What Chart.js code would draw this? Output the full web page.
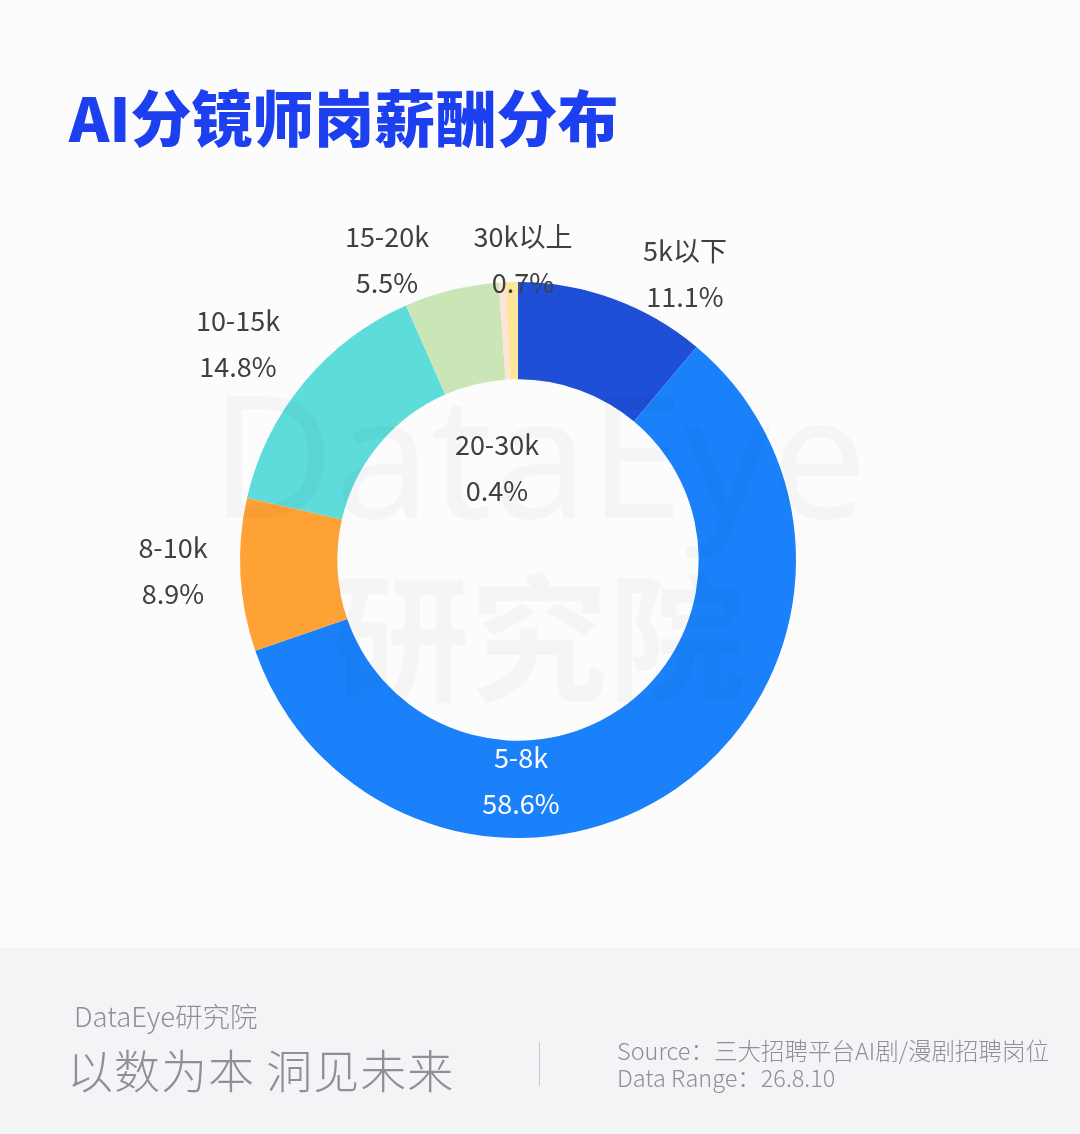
<!DOCTYPE html>
<html>
<head>
<meta charset="utf-8">
<script src="https://cdn.jsdelivr.net/npm/chart.js@4.4.1/dist/chart.umd.min.js"></script>
<style>
  html, body { margin: 0; padding: 0; }
  body { width: 1080px; height: 1134px; background: #fcfcfc; position: relative; overflow: hidden;
         font-family: "Noto Sans CJK SC", "Noto Sans", sans-serif; }
  #title { position: absolute; left: 69px; top: 76px; font-size: 61px; font-weight: 900; color: #1c40f0;
           line-height: 80px; }
  #main { position: absolute; left: 0; top: 0; width: 1080px; height: 948px; }
  #watermark { position: absolute; left: 0; top: 0; width: 1080px; height: 948px; pointer-events: none; }
  #wm1 { position: absolute; left: 210px; top: 352px; font-family: "Noto Sans", sans-serif; font-size: 171px;
         font-weight: 400; color: rgba(0,0,0,0.026); line-height: 200px; }
  #wm2 { position: absolute; left: 332px; top: 540px; font-size: 138px; font-weight: 700;
         color: rgba(0,0,0,0.026); line-height: 180px; }
  #footer { position: absolute; left: 0; top: 948px; width: 1080px; height: 186px; background: #f3f4f6; }
  .ft { position: absolute; color: #8f8f97; white-space: nowrap; }
  #brand { left: 74px; top: 47px; font-size: 27.5px; font-weight: 300; }
  #slogan { left: 67px; top: 87px; font-size: 46px; font-weight: 300; letter-spacing: 1px; }
  #sep { position: absolute; left: 539px; top: 94px; width: 1px; height: 44px; background: #c8c8cc; }
  #src { left: 617px; top: 89px; font-size: 23.5px; font-weight: 300; line-height: 27px; }
</style>
</head>
<body>
<div id="title">AI分镜师岗薪酬分布</div>
<div id="main"><canvas id="chart" width="1080" height="948"></canvas></div>
<div id="watermark"><div id="wm1">DataEye</div><div id="wm2">研究院</div></div>
<div id="footer">
  <div class="ft" id="brand">DataEye研究院</div>
  <div class="ft" id="slogan">以数为本 洞见未来</div>
  <div id="sep"></div>
  <div class="ft" id="src">Source：三大招聘平台AI剧/漫剧招聘岗位<br>Data Range：26.8.10</div>
</div>
<script>
const categories = ["5k以下", "5-8k", "8-10k", "10-15k", "15-20k", "20-30k", "30k以上"];
const shares = [11.1, 58.6, 8.9, 14.8, 5.5, 0.4, 0.7];
const sliceColors = ["#1f4fd6", "#1a81fa", "#ffa236", "#5ddcd9", "#cae6b7", "#fde4d6", "#fde69a"];

// label block centre, offset from the doughnut centre (layout only)
const labelOffsets = [[167, -286], [3, 221], [-345, 11], [-280, -216], [-131, -300], [-21, -92], [5, -300]];
const labelColors = ["#404040", "#ffffff", "#404040", "#404040", "#404040", "#404040", "#404040"];

const sliceLabels = {
  id: "sliceLabels",
  afterDatasetsDraw(chart) {
    const ctx = chart.ctx;
    const arcs = chart.getDatasetMeta(0).data;
    ctx.save();
    ctx.font = '27px "Noto Sans CJK SC", "Noto Sans", sans-serif';
    ctx.textAlign = "center";
    ctx.textBaseline = "middle";
    arcs.forEach((arc, i) => {
      const cx = arc.x + labelOffsets[i][0];
      const cy = arc.y + labelOffsets[i][1];
      ctx.fillStyle = labelColors[i];
      ctx.fillText(categories[i], cx, cy - 23);
      ctx.fillText(shares[i].toFixed(1) + "%", cx, cy + 23);
    });
    ctx.restore();
  },
};

new Chart(document.getElementById("chart"), {
  type: "doughnut",
  data: {
    labels: categories,
    datasets: [{ data: shares, backgroundColor: sliceColors, borderWidth: 0 }],
  },
  options: {
    responsive: false,
    animation: false,
    devicePixelRatio: 1,
    cutout: "65%",
    layout: { padding: { left: 240, right: 284, top: 282, bottom: 110 } },
    plugins: { legend: { display: false }, tooltip: { enabled: false } },
  },
  plugins: [sliceLabels],
});
</script>
</body>
</html>
